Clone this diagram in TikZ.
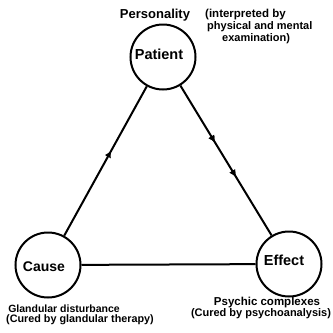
\documentclass[tikz,border=0pt]{standalone}
\usepackage{fontspec}
\setmainfont{Liberation Sans}
\usetikzlibrary{arrows.meta,decorations.markings}
\newcommand{\fs}[1]{\fontsize{#1}{#1}\selectfont}
\begin{document}
\begin{tikzpicture}[x=1pt,y=-1pt,
  ball/.style={circle,draw,line width=2pt,minimum size=65pt,inner sep=0pt,font=\bfseries\fs{14}},
  edge/.style={line width=2pt},
  lbl/.style={inner sep=0pt,align=center},
  midfwd/.style={postaction={decorate},decoration={markings,mark=at position #1 with {\arrow{Latex[length=7pt,width=7pt]}}}}
]
\useasboundingbox (0,0) rectangle (333,333);
\node[ball] (patient) at (163,57) {};
\node[ball] (cause) at (48,265) {};
\node[ball] (effect) at (289,264) {};
\node[lbl,font=\bfseries\fs{14.5}] (patientt) at (159,54) {Patient};
\node[lbl,font=\bfseries\fs{14}] (causet) at (44,267) {Cause};
\node[lbl,font=\bfseries\fs{14.5}] (effectt) at (284,260) {Effect};
\draw[edge,midfwd=0.57] (cause) -- (patient);
\draw[edge,midfwd=0.38,midfwd=0.61] (patient) -- (effect);
\draw[edge] (cause) -- (effect);
\node[lbl,font=\bfseries\fs{13}] (pers) at (155,15) {Personality};
\node[lbl,font=\bfseries\fs{11.5},anchor=west] (interp1) at (205,15) {(interpreted by};
\node[lbl,font=\bfseries\fs{11},anchor=west] (interp2) at (207,27) {physical and mental};
\node[lbl,font=\bfseries\fs{11},anchor=west] (interp3) at (222,39) {examination)};
\node[lbl,font=\bfseries\fs{10.5}] (glan) at (64,309) {Glandular disturbance};
\node[lbl,font=\bfseries\fs{10.8}] (glancure) at (80,320) {(Cured by glandular therapy)};
\node[lbl,font=\bfseries\fs{11.5}] (psy) at (267,303) {Psychic complexes};
\node[lbl,font=\bfseries\fs{11}] (psycure) at (261,314) {(Cured by psychoanalysis)};
\end{tikzpicture}
\end{document}
